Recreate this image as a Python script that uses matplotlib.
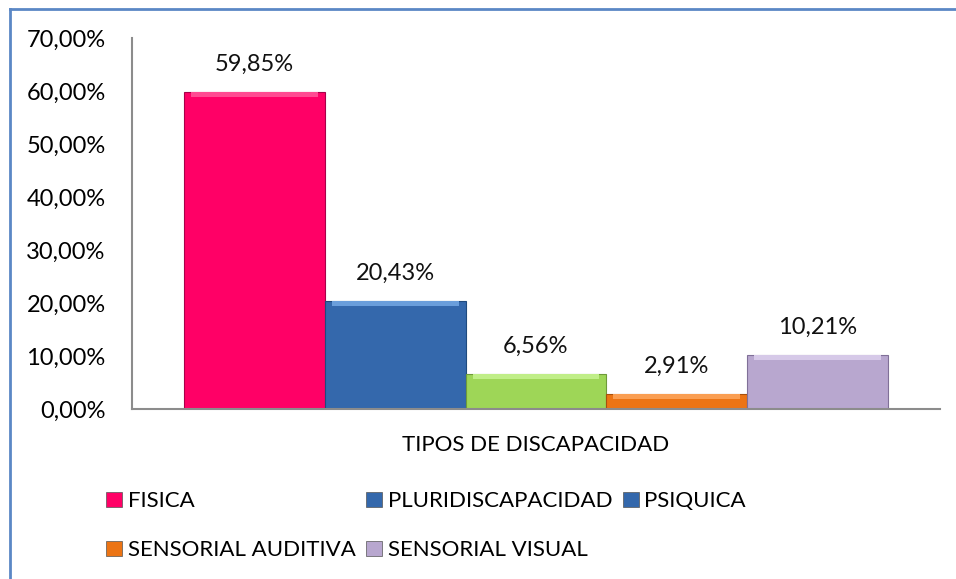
import numpy as np
import matplotlib.pyplot as plt
from matplotlib.patches import Patch
from matplotlib.lines import Line2D

categories = ["FISICA", "PLURIDISCAPACIDAD", "PSIQUICA", "SENSORIAL AUDITIVA", "SENSORIAL VISUAL"]
values = [59.85, 20.43, 6.56, 2.91, 10.21]
labels = ["59,85%", "20,43%", "6,56%", "2,91%", "10,21%"]
yticks = [0, 10, 20, 30, 40, 50, 60, 70]
ytick_labels = ["0,00%", "10,00%", "20,00%", "30,00%", "40,00%", "50,00%", "60,00%", "70,00%"]

bar_colors = ["#FF0066", "#3468AC", "#9ED657", "#EC7414", "#B8A7CF"]
top_colors = ["#FF4A92", "#6A9EDB", "#C0EE88", "#FA9E52", "#D6C9E8"]
edge_colors = ["#A8004A", "#1F4A7E", "#6E9A3A", "#A8500C", "#807098"]
# legend in the original shows PSIQUICA with the blue swatch
legend_colors = ["#FF0066", "#3468AC", "#3468AC", "#EC7414", "#B8A7CF"]

plt.rcParams['font.family'] = ['Lato', 'DejaVu Sans']

fig = plt.figure(figsize=(9.56, 5.79), dpi=100)
ax = fig.add_axes([132/956, 1 - 409/579, (940-132)/956, (409-38)/579])

x = np.arange(len(values))
ax.bar(x, values, width=1.0, color=bar_colors, edgecolor=edge_colors, linewidth=0.8, zorder=2)
# bevel highlight on top of each bar
ax.bar(x, [0.9] * len(values), bottom=[v - 0.95 for v in values], width=0.9,
       color=top_colors, linewidth=0, zorder=3)

for xi, v, lab in zip(x, values, labels):
    ax.text(xi, v + 5.2, lab, ha='center', va='center', fontsize=17, color='#111111')

ax.set_xlim(-0.869, 4.869)
ax.set_ylim(0, 70)
ax.set_yticks(yticks)
ax.set_yticklabels(ytick_labels, fontsize=17)
ax.set_xticks([])
ax.tick_params(axis='y', length=0, pad=19)

for s in ['top', 'right']:
    ax.spines[s].set_visible(False)
ax.spines['left'].set_color('#8C8C8C')
ax.spines['bottom'].set_color('#8C8C8C')
ax.spines['left'].set_linewidth(1.5)
ax.spines['bottom'].set_linewidth(1.5)

fig.text(536/956, 1 - 445/579, "TIPOS DE DISCAPACIDAD", ha='center', va='center', fontsize=16)

# legend: order so rows read FISICA, PLURI, PSIQUICA / SENS AUD, SENS VIS
handles = [Patch(facecolor=c, edgecolor='#555555', linewidth=0.5) for c in legend_colors]
order = [0, 3, 1, 4, 2]
leg = fig.legend([handles[i] for i in order], [categories[i] for i in order],
                 ncol=3, loc='upper left', bbox_to_anchor=(106/956, 1 - 491/579),
                 frameon=False, fontsize=16, handlelength=0.72, handleheight=0.67,
                 handletextpad=0.27, columnspacing=0.45, labelspacing=1.3,
                 borderaxespad=0, borderpad=0)

# outer border of the chart area (only top and left edges are visible)
fig.add_artist(Line2D([10/956, 1], [1 - 9/579, 1 - 9/579], transform=fig.transFigure,
                      color='#5B87C5', linewidth=2.0))
fig.add_artist(Line2D([10/956, 10/956], [0, 1 - 9/579], transform=fig.transFigure,
                      color='#5B87C5', linewidth=2.0))

fig.savefig("out.png", dpi=100)
